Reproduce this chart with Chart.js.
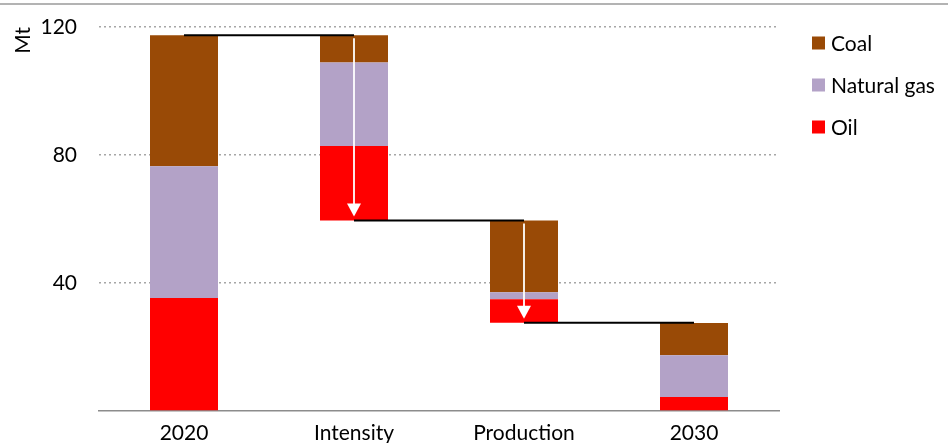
<!DOCTYPE html>
<html>
<head>
<meta charset="utf-8">
<script src="https://cdn.jsdelivr.net/npm/chart.js@4/dist/chart.umd.min.js"></script>
<style>
  html, body { margin: 0; padding: 0; background: #fff; overflow: hidden; }
  canvas { display: block; }
</style>
</head>
<body>
<canvas id="myChart" width="948" height="446"></canvas>
<script>
// categories and values (Mt)
const categories = ['2020', 'Intensity', 'Production', '2030'];
const oil  = [35.3, 23.3, 7.3, 4.4];
const gas  = [41.2, 26.1, 2.2, 13.0];
const coal = [40.9, 8.5, 22.4, 10.1];
const yTicks = [0, 40, 80, 120];

const colors = { coal: '#994a06', gas: '#b3a2c7', oil: '#ff0000' };
const FONT = 'Lato';
const SIZE = 21;

// waterfall: the two middle bars are reductions, floating on a hidden base
const total2020 = oil[0] + gas[0] + coal[0];
const drop = i => oil[i] + gas[i] + coal[i];
const base = [0, total2020 - drop(1), total2020 - drop(1) - drop(2), 0];
const levels = [total2020, base[1], base[2]];

const ctx = document.getElementById('myChart').getContext('2d');

const extras = {
  id: 'extras',
  beforeDraw(chart) {
    const c = chart.ctx;
    c.save();
    c.strokeStyle = '#9a9a9a';
    c.lineWidth = 1.5;
    c.beginPath();
    c.moveTo(0, 4);
    c.lineTo(chart.width, 4);
    c.stroke();
    c.restore();
  },
  afterDatasetsDraw(chart) {
    const c = chart.ctx;
    const x = chart.scales.x, y = chart.scales.y;
    // white arrows inside the reduction bars
    [1, 2].forEach(i => {
      const cx = x.getPixelForValue(i);
      const top = y.getPixelForValue(levels[i - 1]) + 3;
      const tip = y.getPixelForValue(base[i]) - 4;
      c.save();
      c.strokeStyle = '#fff';
      c.fillStyle = '#fff';
      c.lineWidth = 1.8;
      c.beginPath();
      c.moveTo(cx, top);
      c.lineTo(cx, tip - 10);
      c.stroke();
      c.beginPath();
      c.moveTo(cx - 7, tip - 13);
      c.lineTo(cx + 7, tip - 13);
      c.lineTo(cx, tip);
      c.closePath();
      c.fill();
      c.restore();
    });
    // legend
    const items = [
      ['Coal', colors.coal],
      ['Natural gas', colors.gas],
      ['Oil', colors.oil]
    ];
    c.save();
    c.font = SIZE + 'px ' + FONT;
    c.textBaseline = 'middle';
    items.forEach((it, k) => {
      const cy = 43 + k * 42;
      c.fillStyle = it[1];
      c.fillRect(812, cy - 6.5, 13, 13);
      c.fillStyle = '#000';
      c.fillText(it[0], 831, cy + 1);
    });
    c.restore();
  }
};

const barCommon = { stack: 'bars', barPercentage: 0.4, categoryPercentage: 1.0, borderWidth: 0, order: 2 };
const lineCommon = { type: 'line', borderColor: '#000', borderWidth: 2, pointRadius: 0, fill: false, order: 1, spanGaps: false };

const data = {
  labels: categories,
  datasets: [
    { ...barCommon, label: 'base', data: base, backgroundColor: 'rgba(0,0,0,0)' },
    { ...barCommon, label: 'Oil', data: oil, backgroundColor: colors.oil },
    { ...barCommon, label: 'Natural gas', data: gas, backgroundColor: colors.gas },
    { ...barCommon, label: 'Coal', data: coal, backgroundColor: colors.coal },
    { ...lineCommon, label: 'c1', stack: 'c1', data: [levels[0], levels[0], null, null] },
    { ...lineCommon, label: 'c2', stack: 'c2', data: [null, levels[1], levels[1], null] },
    { ...lineCommon, label: 'c3', stack: 'c3', data: [null, null, levels[2], levels[2]] }
  ]
};

const config = {
  type: 'bar',
  data: data,
  plugins: [extras],
  options: {
    responsive: false,
    animation: false,
    layout: { padding: { top: 27, right: 169, left: 0, bottom: 0 } },
    plugins: {
      legend: { display: false },
      tooltip: { enabled: false }
    },
    scales: {
      x: {
        stacked: true,
        afterFit(scale) { scale.height = 35; },
        grid: { display: false, drawTicks: false },
        border: { display: true, color: '#8c8c8c', width: 1.5 },
        ticks: { color: '#000', padding: 10, font: { family: FONT, size: SIZE } }
      },
      y: {
        stacked: true,
        min: yTicks[0],
        max: yTicks[yTicks.length - 1],
        afterFit(scale) {
          scale.width = 99;
          scale.paddingTop = 0;
          scale.paddingBottom = 0;
        },
        afterBuildTicks(scale) { scale.ticks = yTicks.map(v => ({ value: v })); },
        grid: {
          drawTicks: false,
          lineWidth: 1.5,
          color: c => (c.tick && c.tick.value === 0) ? 'rgba(0,0,0,0)' : '#a6a6a6'
        },
        border: { display: false, dash: [2, 3] },
        ticks: {
          color: '#000',
          padding: 22,
          font: { family: FONT, size: SIZE },
          callback: v => v === 0 ? '' : v
        },
        title: {
          display: true,
          text: 'Mt',
          align: 'end',
          color: '#000',
          font: { family: FONT, size: SIZE },
          padding: { top: 11, bottom: 0 }
        }
      }
    }
  }
};

new Chart(ctx, config);
</script>
</body>
</html>
